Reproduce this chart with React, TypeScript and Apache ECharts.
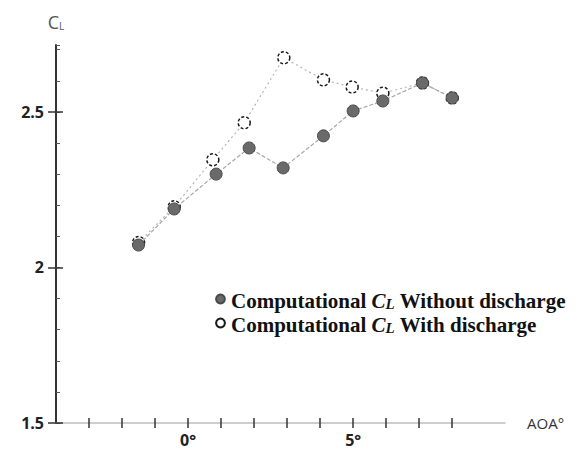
import React, { useEffect, useRef } from "react";
import * as echarts from "echarts";

// AOA (deg) and lift coefficient values
const aoaWithout = [-1.5, -0.42, 0.85, 1.85, 2.88, 4.1, 5.0, 5.9, 7.1, 8.0];
const clWithout = [2.072, 2.188, 2.3, 2.384, 2.32, 2.423, 2.503, 2.535, 2.593, 2.545];
const aoaWith = [-1.5, -0.42, 0.75, 1.7, 2.9, 4.1, 4.97, 5.9, 7.1, 8.0];
const clWith = [2.08, 2.195, 2.346, 2.465, 2.674, 2.603, 2.58, 2.56, 2.593, 2.545];

const xTickValues = [-3, -2, -1, 0, 1, 2, 3, 4, 5, 6, 7, 8];
const xLabelValues = [0, 5];
const yLabelValues = [1.5, 2, 2.5];
const yMajorTicks = [1.5, 2, 2.5];

const nameWithout = "Without discharge";
const nameWith = "With discharge";

export default function App() {
  const ref = useRef<HTMLDivElement>(null);
  useEffect(() => {
    if (!ref.current) return;
    const chart = echarts.init(ref.current, null, { renderer: "svg" });
    const sans = "'Open Sans', Lato, sans-serif";
    const serif = "'Liberation Serif', 'DejaVu Serif', serif";
    const xBase = {
      type: "value",
      min: -4,
      max: 9.6,
      interval: 1,
      position: "bottom",
      splitLine: { show: false },
    };
    const yBase = {
      type: "value",
      min: 1.5,
      max: 2.715,
      interval: 0.1,
      position: "left",
      splitLine: { show: false },
    };
    chart.setOption({
      animation: false,
      backgroundColor: "#ffffff",
      grid: { left: 56, right: 77, top: 45, bottom: 35, containLabel: false },
      xAxis: [
        {
          ...xBase,
          axisLine: { show: true, onZero: false, lineStyle: { color: "#bdbdbd", width: 1.5 } },
          axisTick: { show: true, inside: false, length: 5, customValues: xTickValues, lineStyle: { color: "#333", width: 1.5 } },
          axisLabel: {
            show: true,
            customValues: xLabelValues,
            formatter: (v: number) => v + "°",
            margin: 9,
            color: "#222",
            fontWeight: "bold",
            fontSize: 16,
            fontFamily: sans,
          },
          name: "AOA°",
          nameLocation: "end",
          nameGap: 22,
          nameTextStyle: { color: "#333", fontSize: 15, fontFamily: sans },
        },
        {
          ...xBase,
          axisLine: { show: false, onZero: false },
          axisTick: { show: true, inside: true, length: 5, customValues: xTickValues, lineStyle: { color: "#333", width: 1.5 } },
          axisLabel: { show: false },
        },
      ],
      yAxis: [
        {
          ...yBase,
          axisLine: { show: true, onZero: false, lineStyle: { color: "#333", width: 2 } },
          axisTick: { show: true, inside: true, length: 4, lineStyle: { color: "#555", width: 1 } },
          axisLabel: {
            show: true,
            customValues: yLabelValues,
            formatter: (v: number) => String(v),
            margin: 12,
            color: "#222",
            fontWeight: "bold",
            fontSize: 16,
            fontFamily: sans,
          },
          name: "{c|C}{s|L}",
          nameLocation: "end",
          nameGap: 14,
          nameTextStyle: {
            rich: {
              c: { fontSize: 18, color: "#555", fontFamily: sans, verticalAlign: "bottom", lineHeight: 22 },
              s: { fontSize: 10, color: "#555", fontFamily: sans, verticalAlign: "bottom", lineHeight: 14 },
            },
          },
        },
        {
          ...yBase,
          axisLine: { show: false, onZero: false },
          axisTick: { show: true, inside: false, length: 8, customValues: yMajorTicks, lineStyle: { color: "#333", width: 1.5 } },
          axisLabel: { show: false },
        },
        {
          ...yBase,
          axisLine: { show: false, onZero: false },
          axisTick: { show: true, inside: true, length: 7, customValues: yMajorTicks, lineStyle: { color: "#333", width: 1.5 } },
          axisLabel: { show: false },
        },
      ],
      legend: {
        show: true,
        orient: "vertical",
        left: 209,
        top: 285,
        itemWidth: 11,
        itemHeight: 11,
        itemGap: 3,
        data: [nameWithout, nameWith],
        formatter: (name: string) => `{b|Computational }{i|C}{sub|L}{b| ${name}}`,
        textStyle: {
          rich: {
            b: { fontFamily: serif, fontWeight: "bold", fontSize: 21, color: "#111", lineHeight: 24, verticalAlign: "bottom" },
            i: { fontFamily: serif, fontWeight: "bold", fontStyle: "italic", fontSize: 21, color: "#111", lineHeight: 24, verticalAlign: "bottom" },
            sub: { fontFamily: serif, fontWeight: "bold", fontStyle: "italic", fontSize: 15, color: "#111", lineHeight: 20, verticalAlign: "bottom" },
          },
        },
      },
      series: [
        {
          name: nameWith,
          type: "line",
          data: aoaWith.map((x, i) => [x, clWith[i]]),
          symbol: "circle",
          symbolSize: 12,
          z: 2,
          lineStyle: { color: "#b5b5b5", width: 1.2, type: [2, 3] },
          itemStyle: { color: "#ffffff", borderColor: "#1a1a1a", borderWidth: 1.5, borderType: [3, 2] },
        },
        {
          name: nameWithout,
          type: "line",
          data: aoaWithout.map((x, i) => [x, clWithout[i]]),
          symbol: "circle",
          symbolSize: 12,
          z: 3,
          lineStyle: { color: "#a8a8a8", width: 1.2, type: [4, 2] },
          itemStyle: { color: "#6a6a6a", borderColor: "#4a4a4a", borderWidth: 1 },
        },
      ],
    });
    return () => chart.dispose();
  }, []);
  return (
    <div
      ref={ref}
      style={{ position: "fixed", left: 0, top: 0, width: 582, height: 458, background: "#fff" }}
    />
  );
}
